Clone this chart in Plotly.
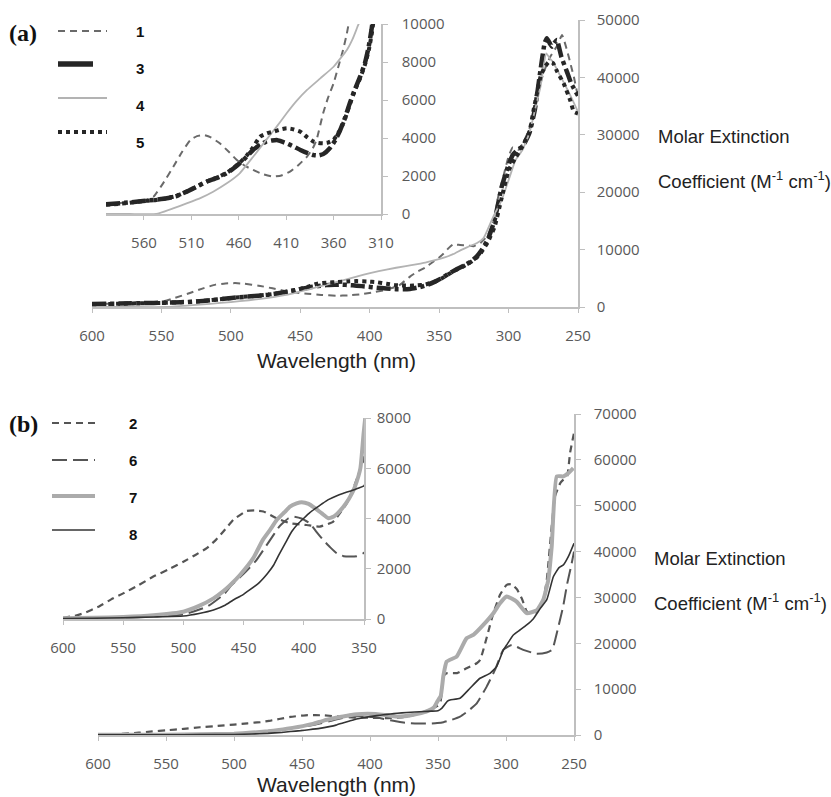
import plotly.graph_objects as go

W, H = 831, 797

# ---------------- Panel (a) data : wavelength (nm) / molar extinction ----------------
wl_1 = [600, 580, 560, 550, 540, 529, 520, 511, 504, 497, 490, 480, 470, 462, 453, 445, 435, 424,
        415, 406, 397, 388, 382, 378, 371, 366, 360, 355, 350, 346, 343, 340, 335, 330, 325, 320,
        315, 310, 308, 304, 300, 297, 293, 290, 285, 280, 275, 270, 265, 261.5, 258, 255, 253, 250]
eps_1 = [520, 600, 700, 910, 1600, 2490, 3250, 3900, 4100, 4160, 4050, 3720, 3250, 2840, 2520, 2320,
         2100, 1970, 2030, 2230, 2580, 3020, 3450, 3900, 5300, 6100, 6880, 7750, 8630, 9500, 10300,
         10900, 10800, 10700, 10600, 11200, 12500, 15500, 18600, 22500, 26200, 27800, 27400, 28400,
         31000, 36000, 40700, 43600, 45500, 47400, 44800, 42000, 40100, 36600]

wl_3 = [600, 580, 561, 550, 536, 525, 515, 505, 494, 483, 473, 466, 459, 452, 445, 437, 431, 425,
        420, 415, 409.5, 402, 395, 388, 381, 376, 371, 364, 358, 353, 348, 343, 338, 332, 327, 323,
        320, 315, 310, 305, 300, 297, 293, 290, 285, 281, 277, 274, 272.4, 270, 268.8, 267, 265.2,
        262, 258, 255, 253, 250]
eps_3 = [510, 590, 685, 740, 825, 960, 1175, 1420, 1700, 1900, 2140, 2380, 2670, 3000, 3370, 3650,
         3810, 3870, 3900, 3820, 3720, 3550, 3370, 3220, 3100, 3080, 3150, 3460, 3900, 4420, 5050,
         5820, 6500, 7230, 7930, 8800, 9700, 11700, 15200, 20900, 24800, 26500, 27500, 27900, 30300,
         34500, 41300, 46000, 46800, 45800, 45350, 46000, 46500, 43600, 41000, 39000, 38100, 36800]

wl_4 = [600, 575, 547, 530, 515, 500, 487, 473, 459, 445, 431, 420, 409.5, 399, 388, 374, 360, 346,
        340, 334, 330, 323, 318, 311, 305, 300, 295, 290, 285, 281, 277, 272.9, 270, 268, 265, 260,
        255, 250]
eps_4 = [0, 0, 0, 280, 560, 850, 1175, 1600, 2140, 3000, 3900, 4600, 5300, 5950, 6530, 7140, 7750,
         8630, 9200, 9950, 10400, 11090, 12000, 15740, 18600, 22100, 25600, 27350, 30300, 34300,
         38400, 44200, 43200, 42700, 41300, 39000, 36600, 34000]

wl_5 = [600, 580, 561, 550, 536, 525, 515, 505, 494, 483, 473, 466, 459, 452, 445, 437.6, 430, 423.6,
        416, 409.5, 402, 395, 388, 381, 376, 371, 366, 360, 356, 353, 348, 343, 338, 332, 327, 323,
        320, 315, 310, 305, 300, 295, 290, 285, 282, 277, 274, 271, 268, 265, 260.4, 255.6, 253, 250]
eps_5 = [480, 560, 680, 720, 830, 960, 1180, 1420, 1700, 1920, 2160, 2400, 2700, 3050, 3500, 4070,
         4250, 4330, 4450, 4510, 4450, 4330, 4050, 3810, 3740, 3720, 3760, 3900, 4200, 4420, 5000,
         5750, 6450, 7150, 7850, 8600, 9400, 11300, 14000, 19000, 23800, 26000, 28000, 30500, 34300,
         40100, 41800, 42700, 42500, 41000, 39000, 36000, 34000, 33700]

# ---------------- Panel (b) data ----------------
wl_2 = [600, 590, 583, 570, 560, 550, 537, 525, 512, 500, 490, 480.6, 473, 466.8, 458.5, 447.5, 440,
        433.6, 422.5, 411.5, 397.6, 386.6, 375.5, 364.4, 358, 353.3, 350, 348, 346, 343.6, 336, 329,
        321.5, 319, 314, 309.3, 304.4, 299.5, 296, 292, 288, 284.8, 281, 277.5, 272.6, 270, 264, 260,
        257.8, 255, 252.9, 250]
eps_2 = [50, 130, 226, 500, 780, 1020, 1350, 1690, 1980, 2280, 2550, 2820, 3150, 3480, 3950, 4300,
         4320, 4280, 4010, 3810, 3740, 3680, 3880, 4600, 5300, 5940, 6400, 7500, 12740, 13460, 13500,
         14550, 15650, 16370, 21460, 26560, 30560, 32750, 32900, 31800, 29500, 27000, 26600, 26900,
         29470, 33840, 52000, 55000, 55700, 56500, 61500, 65900]

wl_6 = [600, 550, 500, 480, 466, 460, 450, 440, 430, 420, 413, 408.8, 402, 395, 390, 383.9, 378,
        372.7, 367, 361.6, 356, 350.6, 346, 340, 333.8, 328, 321.5, 314.2, 308.1, 302, 295.8, 287.3,
        277.5, 270, 266, 262, 258, 255, 252, 250]
eps_6 = [20, 50, 180, 500, 1000, 1350, 1800, 2300, 3000, 3700, 4000, 4077, 4000, 3810, 3500, 3147,
         2850, 2616, 2500, 2483, 2500, 2616, 2800, 3300, 4000, 5200, 6910, 10550, 14190, 18560, 19650,
         18560, 17700, 18000, 18600, 23000, 28000, 33000, 37000, 40000]

wl_7 = [600, 575, 550, 525, 500, 487, 475, 467, 461, 453, 442, 434, 428, 422.5, 416, 411.5, 406,
        401.8, 396, 390.7, 385, 379.6, 375, 370, 365, 360, 357.5, 353, 350.5, 348, 346, 343.6, 336.3,
        329, 324, 316.7, 309.3, 304.4, 299.5, 292.2, 284.8, 277.5, 272.6, 268.9, 266.4, 262.7, 257.8,
        254.2, 250.5]
eps_7 = [30, 50, 80, 150, 290, 520, 820, 1100, 1355, 1750, 2420, 3150, 3550, 3940, 4250, 4475, 4600,
         4648, 4580, 4410, 4200, 4010, 4080, 4300, 4600, 5000, 5270, 6000, 7300, 8500, 13000, 16010,
         17100, 21100, 21830, 24010, 26560, 28740, 30200, 29100, 26560, 27160, 29470, 33840, 41100,
         56400, 56400, 57100, 58200]

wl_8 = [600, 575, 550, 525, 500, 487, 475, 465, 458.6, 451, 445, 437, 430, 425, 420, 415, 410, 405,
        400, 395, 390, 385, 380, 373, 367, 360, 355, 350, 347.3, 343, 341.2, 333.8, 326.5, 319.1,
        311.8, 306.9, 302, 299.5, 294.6, 289.7, 284.8, 280, 275, 270, 265.2, 261, 257.8, 254, 250]
eps_8 = [20, 30, 50, 80, 120, 220, 360, 560, 757, 950, 1155, 1450, 1820, 2150, 2616, 3050, 3480, 3780,
         4010, 4230, 4409, 4580, 4741, 4900, 5007, 5113, 5200, 5299, 5820, 7400, 7640, 8000, 10190,
         12370, 13460, 14920, 18500, 19650, 21800, 22900, 24000, 25300, 27500, 29500, 34500, 36500,
         37100, 39000, 41800]

main_ticks = [600, 550, 500, 450, 400, 350, 300, 250]
inset_a_ticks = [560, 510, 460, 410, 360, 310]
inset_b_ticks = [600, 550, 500, 450, 400, 350]

series_a = [("1", wl_1, eps_1), ("3", wl_3, eps_3), ("4", wl_4, eps_4), ("5", wl_5, eps_5)]
series_b = [("2", wl_2, eps_2), ("6", wl_6, eps_6), ("7", wl_7, eps_7), ("8", wl_8, eps_8)]

styles = {
    "1": dict(color="#6a6a6a", width=2, dash="7px,5px"),
    "3": dict(color="#262626", width=4.5, dash="14px,4px,4px,4px"),
    "4": dict(color="#b3b3b3", width=1.8, dash="solid"),
    "5": dict(color="#262626", width=4, dash="dot"),
    "2": dict(color="#555555", width=2.2, dash="7px,5px"),
    "6": dict(color="#555555", width=2, dash="15px,6px"),
    "7": dict(color="#ababab", width=4, dash="solid"),
    "8": dict(color="#333333", width=1.6, dash="solid"),
}

fig = go.Figure()
for name, x, y in series_a:
    for xa, ya in (("x", "y"), ("x2", "y2")):
        fig.add_trace(go.Scatter(x=x, y=y, mode="lines", name=name, xaxis=xa, yaxis=ya,
                                 line=dict(shape="spline", smoothing=0.4, **styles[name]),
                                 showlegend=False, hoverinfo="skip"))
for name, x, y in series_b:
    for xa, ya in (("x3", "y3"), ("x4", "y4")):
        fig.add_trace(go.Scatter(x=x, y=y, mode="lines", name=name, xaxis=xa, yaxis=ya,
                                 line=dict(shape="spline", smoothing=0.4, **styles[name]),
                                 showlegend=False, hoverinfo="skip"))


def px(v):
    return v / W


def py(v):
    return 1 - v / H


TICKFONT = dict(family="Open Sans", size=15, color="#595959")
AXC = "#bfbfbf"


def xax(l, r, rng, ticks, anchor):
    return dict(domain=[px(l), px(r)], range=rng, tickvals=ticks, anchor=anchor,
                automargin=False, showline=True, linecolor=AXC, linewidth=1.5,
                ticks="outside", ticklen=4, tickcolor=AXC, tickwidth=1.2, showgrid=False,
                zeroline=False, tickfont=TICKFONT, ticklabelstandoff=10, fixedrange=True)


def yax(b, t, rng, dtick, anchor, standoff):
    return dict(domain=[py(b), py(t)], range=rng, dtick=dtick, tick0=0, anchor=anchor,
                automargin=False, tickformat="d", side="right", showline=True, linecolor=AXC,
                linewidth=1.5, ticks="outside", ticklen=5, tickcolor=AXC, tickwidth=1.2,
                showgrid=False, zeroline=False, tickfont=TICKFONT,
                ticklabelstandoff=standoff, fixedrange=True)


fig.update_layout(
    width=W, height=H, margin=dict(l=0, r=0, t=0, b=0, autoexpand=False),
    paper_bgcolor="white", plot_bgcolor="rgba(0,0,0,0)",
    xaxis=xax(92, 578, [600, 250], main_ticks, "y"),
    yaxis=yax(307, 20, [0, 50000], 10000, "x", 9),
    xaxis2=xax(106, 381, [600, 310], inset_a_ticks, "y2"),
    yaxis2=yax(214, 24, [0, 10000], 2000, "x2", 11),
    xaxis3=xax(98, 574, [600, 250], main_ticks, "y3"),
    yaxis3=yax(735, 414, [0, 70000], 10000, "x3", 10),
    xaxis4=xax(63, 364, [600, 350], inset_b_ticks, "y4"),
    yaxis4=yax(619, 418, [0, 8000], 2000, "x4", 3),
)

ann = []
TITLE = dict(family="Liberation Sans, Arial", color="#222222")
for ycen in (360, 784):
    ann.append(dict(text="Wavelength (nm)", x=px(336), y=py(ycen), xref="paper", yref="paper",
                    showarrow=False, xanchor="center", yanchor="middle",
                    font=dict(size=21, **TITLE)))
for xl, y1, y2 in ((656, 136, 180), (652, 558, 602)):
    ann.append(dict(text="Molar Extinction", x=px(xl), y=py(y1), xref="paper", yref="paper",
                    showarrow=False, xanchor="left", yanchor="middle",
                    font=dict(size=18.5, **TITLE)))
    ann.append(dict(text="Coefficient (M<sup>-1</sup> cm<sup>-1</sup>)", x=px(xl), y=py(y2),
                    xref="paper", yref="paper", showarrow=False, xanchor="left",
                    yanchor="middle", font=dict(size=18.5, **TITLE)))
for lab, ycen in (("(a)", 33), ("(b)", 424)):
    ann.append(dict(text="<b>%s</b>" % lab, x=px(23), y=py(ycen), xref="paper", yref="paper",
                    showarrow=False, xanchor="center", yanchor="middle",
                    font=dict(family="Liberation Serif, Times New Roman", size=24, color="#111111")))

# legend keys
shapes = []
leg_a = [("1", 58, 107, 31, 31), ("3", 58, 93, 64, 68), ("4", 58, 107, 98, 106), ("5", 58, 107, 132, 143)]
leg_b = [("2", 52, 95, 423, 423), ("6", 52, 95, 460, 460), ("7", 52, 95, 496, 497), ("8", 52, 95, 530, 534)]
for items, lx in ((leg_a, 140), (leg_b, 133)):
    for name, x0, x1, yl, yt in items:
        st = dict(styles[name])
        if name == "3":
            st = dict(color=st["color"], width=5.5, dash="solid")
        shapes.append(dict(type="line", xref="paper", yref="paper", x0=px(x0), x1=px(x1),
                           y0=py(yl), y1=py(yl), line=st))
        ann.append(dict(text="<b>%s</b>" % name, x=px(lx), y=py(yt), xref="paper", yref="paper",
                        showarrow=False, xanchor="center", yanchor="middle",
                        font=dict(family="Liberation Sans, Arial", size=15, color="#111111")))

fig.update_layout(annotations=ann, shapes=shapes)
fig.write_html("out.html", config={"displayModeBar": False},
               post_script="document.body.style.margin='0';document.body.style.padding='0';"
                           "document.body.style.overflow='hidden';")
